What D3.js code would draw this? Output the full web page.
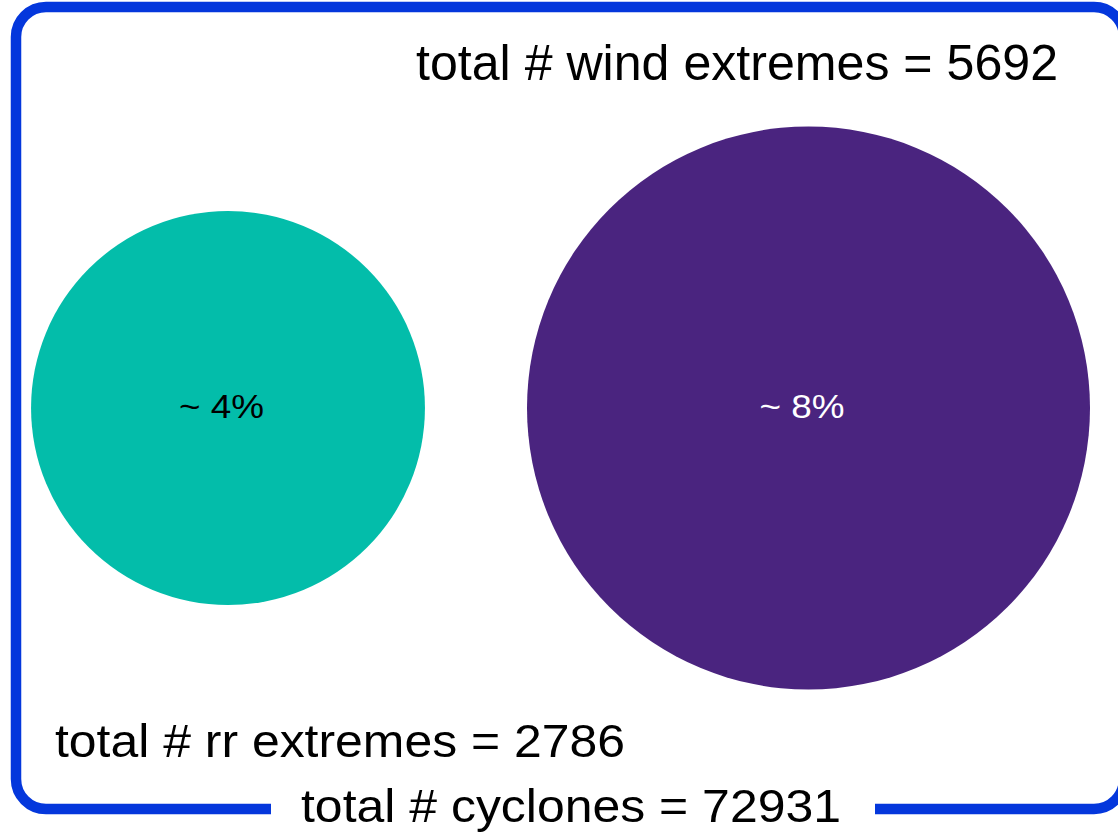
<!DOCTYPE html>
<html>
<head>
<meta charset="utf-8">
<script src="https://cdn.jsdelivr.net/npm/d3@7"></script>
<style>
  html, body { margin: 0; padding: 0; background: #ffffff; }
  svg { display: block; }
  text { font-family: "Liberation Sans", Arial, sans-serif; }
</style>
</head>
<body>
<svg id="chart" width="1118" height="832"></svg>
<script>
// Extreme-event groups, their counts and share of all cyclones
const categories = ["rr", "wind"];
const counts = [2786, 5692];
const shareLabels = ["~ 4%", "~ 8%"];
const totalCyclones = 72931;
const colors = ["#03BDAA", "#4A247F"];
const shareTextColors = ["#000000", "#ffffff"];

const svg = d3.select("#chart");

// Frame around the diagram, with a gap at the bottom for the total label
const frame = { x0: 16, y0: 7, x1: 1124, y1: 809, r: 30 };
const gapX0 = 271, gapX1 = 875;
const fp = d3.path();
fp.moveTo(gapX0, frame.y1);
fp.lineTo(frame.x0 + frame.r, frame.y1);
fp.arcTo(frame.x0, frame.y1, frame.x0, frame.y1 - frame.r, frame.r);
fp.lineTo(frame.x0, frame.y0 + frame.r);
fp.arcTo(frame.x0, frame.y0, frame.x0 + frame.r, frame.y0, frame.r);
fp.lineTo(frame.x1 - frame.r, frame.y0);
fp.arcTo(frame.x1, frame.y0, frame.x1, frame.y0 + frame.r, frame.r);
fp.lineTo(frame.x1, frame.y1 - frame.r);
fp.arcTo(frame.x1, frame.y1, frame.x1 - frame.r, frame.y1, frame.r);
fp.lineTo(gapX1, frame.y1);
svg.append("path")
  .attr("d", fp.toString())
  .attr("fill", "none")
  .attr("stroke", "#0437DC")
  .attr("stroke-width", 10.5)
  .attr("stroke-linecap", "butt");

// Circle area proportional to the number of extremes
const r = d3.scaleSqrt().domain([0, d3.max(counts)]).range([0, 281.5]);
const x = d3.scalePoint().domain(categories).range([228, 808.5]);
const cy = 408;

const data = categories.map((c, i) => ({
  cat: c, count: counts[i], label: shareLabels[i],
  color: colors[i], textColor: shareTextColors[i]
}));

svg.selectAll("circle.bubble")
  .data(data)
  .join("circle")
  .attr("class", "bubble")
  .attr("cx", d => x(d.cat))
  .attr("cy", cy)
  .attr("r", d => r(d.count))
  .attr("fill", d => d.color);

svg.selectAll("text.share")
  .data(data)
  .join("text")
  .attr("class", "share")
  .attr("x", d => x(d.cat) - 49)
  .attr("y", cy + 10)
  .attr("font-size", 34)
  .attr("textLength", 85)
  .attr("lengthAdjust", "spacingAndGlyphs")
  .attr("fill", d => d.textColor)
  .text(d => d.label);

// Totals
function label(txt, xLeft, baseline, size, len) {
  svg.append("text")
    .attr("x", xLeft)
    .attr("y", baseline)
    .attr("font-size", size)
    .attr("fill", "#000")
    .attr("textLength", len)
    .attr("lengthAdjust", "spacingAndGlyphs")
    .text(txt);
}
label(`total # wind extremes = ${counts[1]}`, 416, 80, 50, 642);
label(`total # rr extremes = ${counts[0]}`, 55, 757, 47, 570);
label(`total # cyclones = ${totalCyclones}`, 301, 822, 47, 540);
</script>
</body>
</html>
